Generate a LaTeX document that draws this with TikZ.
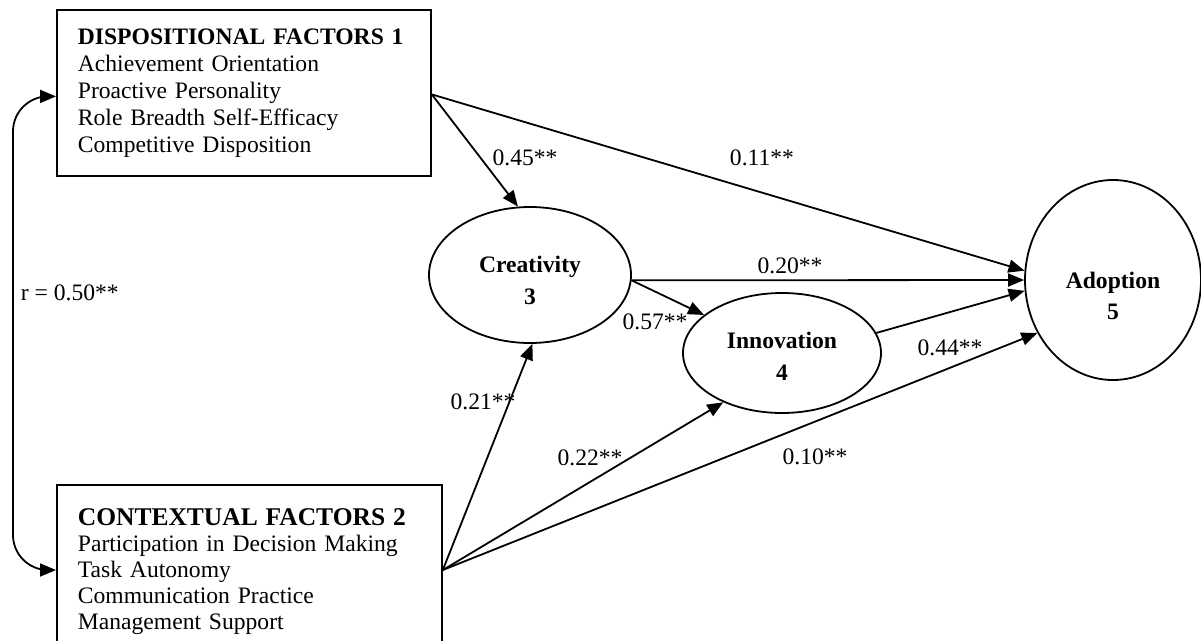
\documentclass[tikz,border=0pt]{standalone}
\usepackage{fontspec}
\setmainfont{Liberation Serif}
\usetikzlibrary{arrows.meta,shapes.geometric}
\begin{document}
\begin{tikzpicture}[x=1pt,y=-1pt,
  line width=1.8pt,
  tip/.style={-{Triangle[length=16pt,width=13pt]}},
  factorbox/.style={draw, rectangle, anchor=north west, align=left, inner xsep=21pt},
  latent/.style={draw, ellipse, inner sep=0pt, align=center, font=\fontsize{23.6}{26}\selectfont\bfseries},
  coef/.style={font=\fontsize{23.6}{27}\selectfont, inner sep=0pt}]
\useasboundingbox (0,0) rectangle (1201,640);
\node[factorbox, text width=332pt, minimum height=166pt, inner ysep=0pt, font=\fontsize{23.6}{27}\selectfont] (b1) at (56,9)
  {\textbf{DISPOSITIONAL FACTORS 1}\\Achievement Orientation\\Proactive Personality\\Role Breadth Self-Efficacy\\Competitive Disposition};
\node[factorbox, text width=343pt, inner ysep=24pt, font=\fontsize{23.6}{26}\selectfont] (b2) at (56,484)
  {{\fontsize{25.5}{26}\selectfont\bfseries CONTEXTUAL FACTORS 2}\\Participation in Decision Making\\Task Autonomy\\Communication Practice\\Management Support\rule[-80pt]{0pt}{0pt}};
\node[latent, minimum width=202pt, minimum height=136pt] (C) at (530,275) {\rule{0pt}{27pt}Creativity\\[5.5pt]3};
\node[latent, minimum width=198pt, minimum height=120pt] (I) at (782,353) {\rule{0pt}{23pt}Innovation\\[5.5pt]4};
\node[latent, minimum width=176pt, minimum height=200pt] (A) at (1113,280) {\rule{0pt}{48pt}Adoption\\[5.5pt]5};
\coordinate (b1e) at ([yshift=-1.5pt]b1.east);
\coordinate (b2e) at ([yshift=-86pt]b2.north east);
\draw[tip] (b1e) -- (A.174);
\draw[tip] (b1e) -- (C.100);
\draw[tip] (C.-3) -- (A.west);
\draw[tip] (C.-3) -- (I.154);
\draw[tip] (I.12) -- (A.187);
\draw[tip] (b2e) -- (C.-88);
\draw[tip] (b2e) -- (I.220);
\draw[tip] (b2e) -- (A.215);
\draw[{Triangle[length=16pt,width=13pt]}-{Triangle[length=16pt,width=13pt]}, rounded corners=35pt]
  ([yshift=-3.5pt]b1.west) -| (13,330) |- ([yshift=-86pt]b2.north west);
\node[coef] (l45) at (525,158) {0.45**};
\node[coef] (l11) at (762,158) {0.11**};
\node[coef] (l20) at (790,266) {0.20**};
\node[coef] (l57) at (655,322) {0.57**};
\node[coef] (l21) at (483,402) {0.21**};
\node[coef] (l22) at (590,458) {0.22**};
\node[coef] (l44) at (950,348) {0.44**};
\node[coef] (l10) at (815,457) {0.10**};
\node[coef, anchor=west] (lr) at (20,293) {r = 0.50**};
\end{tikzpicture}
\end{document}
